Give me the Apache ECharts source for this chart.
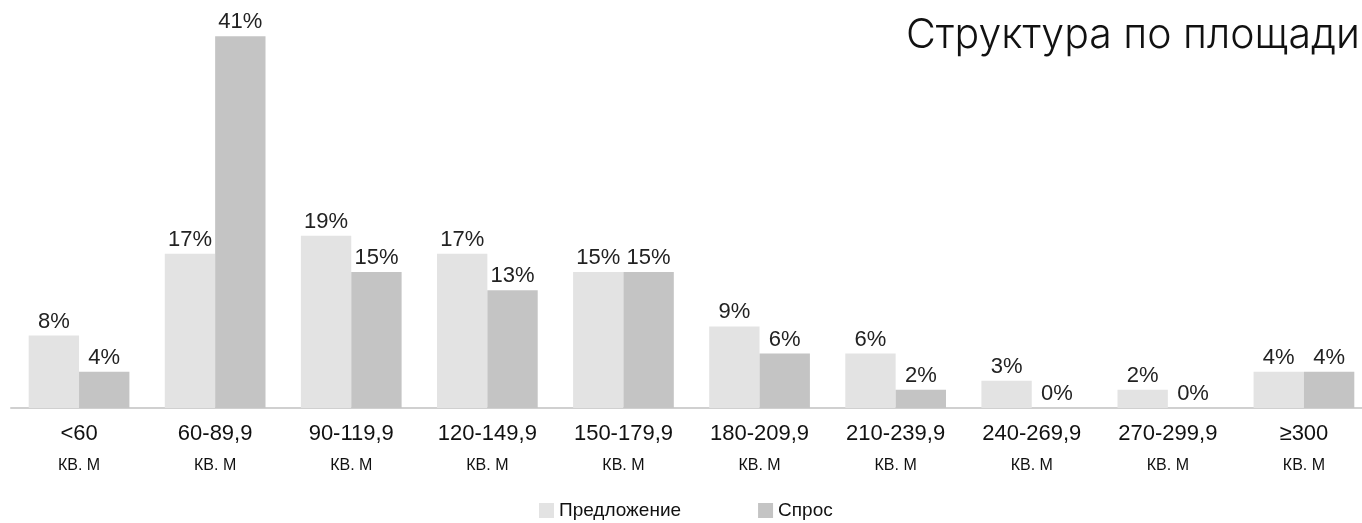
<!DOCTYPE html>
<html>
<head>
<meta charset="utf-8">
<script src="https://cdn.jsdelivr.net/npm/echarts@6/dist/echarts.min.js"></script>
<style>
  html, body { margin: 0; padding: 0; background: #fff; }
  #chart { width: 1362px; height: 523px; }
</style>
</head>
<body>
<div id="chart"></div>
<script>
// Size ranges of the apartments, in square metres
const categories = ['<60', '60-89,9', '90-119,9', '120-149,9', '150-179,9', '180-209,9', '210-239,9', '240-269,9', '270-299,9', '≥300'];
const unitLabel = 'КВ. М';
// Share of each range, percent
const supply = [8, 17, 19, 17, 15, 9, 6, 3, 2, 4];
const demand = [4, 41, 15, 13, 15, 6, 2, 0, 0, 4];
const seriesNames = ['Предложение', 'Спрос'];
const titleText = 'Структура по площади';

const FONT = '"Liberation Sans", Arial, sans-serif';
const chart = echarts.init(document.getElementById('chart'));

const valueLabel = {
  show: true,
  position: 'top',
  distance: 3,
  formatter: p => p.value + '%',
  fontFamily: FONT,
  fontSize: 22,
  color: '#222'
};

chart.setOption({
  animation: false,
  backgroundColor: '#fff',
  title: {
    text: titleText,
    left: 901,
    top: 10,
    textStyle: { fontFamily: 'Inter, sans-serif', fontWeight: 300, fontSize: 41, color: '#111' }
  },
  legend: {
    bottom: -2,
    left: 534,
    itemWidth: 15,
    itemHeight: 15,
    itemGap: 77,
    icon: 'rect',
    textStyle: { fontFamily: FONT, fontSize: 19, color: '#111' },
    data: seriesNames
  },
  grid: { left: 11, width: 1361, top: 0, bottom: 115, containLabel: false, outerBoundsMode: 'none' },
  xAxis: {
    type: 'category',
    data: categories,
    axisLine: { lineStyle: { color: '#d0d0d0', width: 2 } },
    axisTick: { show: false },
    axisLabel: {
      interval: 0,
      margin: 12,
      formatter: v => '{a|' + v + '}\n{b|' + unitLabel + '}',
      rich: {
        a: { fontFamily: FONT, fontSize: 22, color: '#111', lineHeight: 28 },
        b: { fontFamily: FONT, fontSize: 16, color: '#111', lineHeight: 36 }
      }
    }
  },
  yAxis: {
    type: 'value',
    min: 0,
    max: 45,
    show: false,
    splitLine: { show: false }
  },
  series: [
    {
      name: seriesNames[0],
      type: 'bar',
      data: supply,
      barGap: '0%',
      barCategoryGap: '26%',
      itemStyle: { color: '#e3e3e3' },
      label: valueLabel
    },
    {
      name: seriesNames[1],
      type: 'bar',
      data: demand,
      itemStyle: { color: '#c4c4c4' },
      label: valueLabel
    }
  ]
});
</script>
</body>
</html>
